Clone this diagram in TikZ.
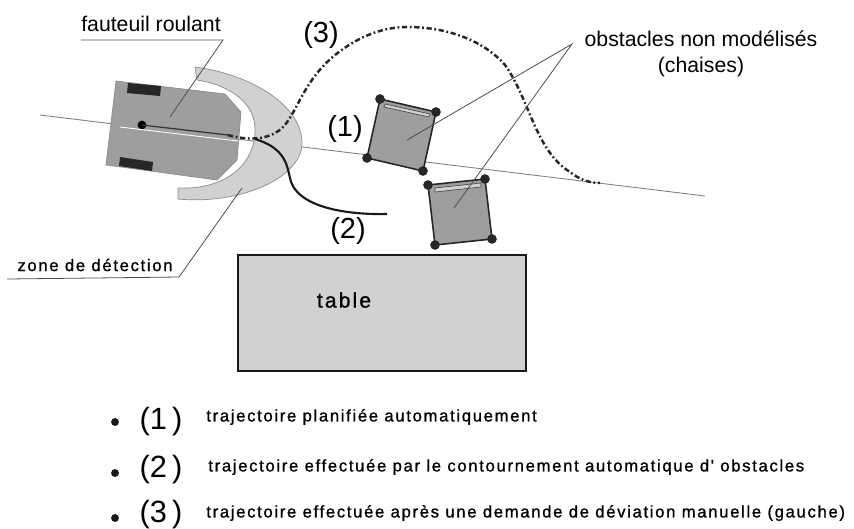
\documentclass[tikz,border=0pt]{standalone}
\usepackage{fontspec}
\setmainfont{Liberation Sans}
\newfontfamily\spacedfont[LetterSpace=10,FakeBold=1]{Liberation Sans}
\usepackage{tikz}
\definecolor{greybody}{gray}{0.62}
\definecolor{greyzone}{gray}{0.82}
\definecolor{greytable}{gray}{0.82}
\tikzset{
    thinline/.style={draw=black!70,line width=0.45pt},
    axisline/.style={draw=black!50,line width=0.5pt},
    chairbody/.style={draw=black!85,fill=greybody,line width=0.9pt},
    foot/.style={fill=black!85,circle,inner sep=0pt,minimum size=5.5pt},
    smalltext/.style={font=\spacedfont\fontsize{9.5}{10}\selectfont,anchor=west,inner sep=0pt},
    bigtext/.style={font=\fontsize{16.5}{18}\selectfont,inner sep=0pt},
    labeltext/.style={font=\fontsize{12.1}{14}\selectfont,inner sep=0pt},
    bullet/.style={fill=black!90,circle,inner sep=0pt,minimum size=4.5pt},
}
\begin{document}
\begin{tikzpicture}[x=0.02cm,y=-0.02cm]
    \useasboundingbox (0,0) rectangle (854,528);
    %axe
    \coordinate (axisA) at (40,115);
    \coordinate (axisB) at (705,196);
    \draw[axisline] (axisA) -- (axisB);
    %zone de detection
    \draw[fill=greyzone,draw=black!45,line width=0.4pt] (195,67) .. controls (250,74) and (302,105) .. (302,143)
        .. controls (302,178) and (240,205) .. (178,199) -- (178,188)
        .. controls (225,190) and (256,165) .. (255,128)
        .. controls (254,100) and (225,84) .. (197,80) -- cycle;
    %fauteuil
    \draw[fill=greybody,draw=black!45,line width=0.4pt] (116,81) -- (225,94) -- (241,112) -- (237,160) -- (217,180) -- (106,165) -- cycle;
    \fill[black!85] (128,83) -- (161,86) -- (160,96) -- (127,93) -- cycle;
    \fill[black!85] (120,157) -- (153,162) -- (152,171) -- (119,166) -- cycle;
    \node[fill=black,circle,inner sep=0pt,minimum size=5pt] (pivot) at (142,125) {};
    \draw[white,line width=0.5pt] (120,127) -- (238,141);
    \draw[black!80,line width=0.7pt] (142,125) -- (228,135);
    %trajectoires
    \draw[black!85,line width=1.4pt,dash pattern=on 3pt off 1.5pt on 1pt off 1.5pt] (228,135) .. controls (245,140) and (270,142) .. (285,125)
        .. controls (300,105) and (305,80) .. (335,55)
        .. controls (360,35) and (385,27) .. (407,27)
        .. controls (450,27) and (485,42) .. (505,65)
        .. controls (530,100) and (535,150) .. (570,172)
        .. controls (580,180) and (590,183) .. (600,183);
    \draw[black!90,line width=1.2pt] (255,139) .. controls (285,148) and (287,165) .. (290,178)
        .. controls (295,205) and (340,215) .. (387,214);
    %chaises
    \draw[chairbody] (380,99) coordinate (c1a) -- (436,112) coordinate (c1b) -- (423,171) coordinate (c1c) -- (367,158) coordinate (c1d) -- cycle;
    \draw[draw=black!70,fill=greyzone,line width=0.4pt] (385,104) -- (430,114) -- (429,117) -- (384,107) -- cycle;
    \node[foot] at (c1a) {};
    \node[foot] at (c1b) {};
    \node[foot] at (c1c) {};
    \node[foot] at (c1d) {};
    \draw[chairbody] (428,185) coordinate (c2a) -- (485,179) coordinate (c2b) -- (492,239) coordinate (c2c) -- (435,245) coordinate (c2d) -- cycle;
    \draw[draw=black!70,fill=greyzone,line width=0.4pt] (435,188) -- (481,183) -- (481,187) -- (435,192) -- cycle;
    \node[foot] at (c2a) {};
    \node[foot] at (c2b) {};
    \node[foot] at (c2c) {};
    \node[foot] at (c2d) {};
    %table
    \node[draw=black!90,fill=greytable,line width=1.2pt,minimum width=288*0.02cm,minimum height=116*0.02cm,inner sep=0pt,anchor=north west] (table) at (237,254) {};
    \node[font=\spacedfont\fontsize{12}{13}\selectfont,inner sep=0pt] (tablelabel) at (344,300) {table};
    %etiquettes
    \node[labeltext] (fauteuil) at (151,24) {fauteuil roulant};
    \coordinate (fauteuilA) at (81,40);
    \coordinate (fauteuilB) at (223,40);
    \coordinate (fauteuilC) at (170,117);
    \draw[thinline] (fauteuilA) -- (fauteuilB) -- (fauteuilC);
    \node[font=\spacedfont\fontsize{9.5}{10}\selectfont,inner sep=0pt] (zone) at (95,265) {zone de détection};
    \coordinate (zoneA) at (7,279);
    \coordinate (zoneB) at (179,277);
    \coordinate (zoneC) at (242,188);
    \draw[thinline] (zoneA) -- (zoneB) -- (zoneC);
    \node[labeltext,align=center] (obstacles) at (701,54) {obstacles non modélisés\\[1pt](chaises)};
    \coordinate (apex) at (572,44);
    \coordinate (obstA) at (407,140);
    \coordinate (obstB) at (454,208);
    \draw[thinline] (obstA) -- (apex) -- (obstB);
    \node[bigtext] (n1) at (345,129) {(1)};
    \node[bigtext] (n2) at (348,231) {(2)};
    \node[bigtext] (n3) at (321,35) {(3)};
    %legende
    \node[bullet] (b1) at (115,422) {};
    \node[bullet] (b2) at (115,473) {};
    \node[bullet] (b3) at (115,518) {};
    \node[bigtext,font=\fontsize{17.5}{18}\selectfont] (l1) at (161,422) {(1\,)};
    \node[bigtext,font=\fontsize{17.5}{18}\selectfont] (l2) at (161,470) {(2\,)};
    \node[bigtext,font=\fontsize{17.5}{18}\selectfont] (l3) at (161,515) {(3\,)};
    \node[smalltext] (t1) at (206,417) {trajectoire planifiée automatiquement};
    \node[smalltext] (t2) at (208,467) {trajectoire effectuée par le contournement automatique d' obstacles};
    \node[smalltext] (t3) at (206,513) {trajectoire effectuée après une demande de déviation manuelle (gauche)};
\end{tikzpicture}
\end{document}
